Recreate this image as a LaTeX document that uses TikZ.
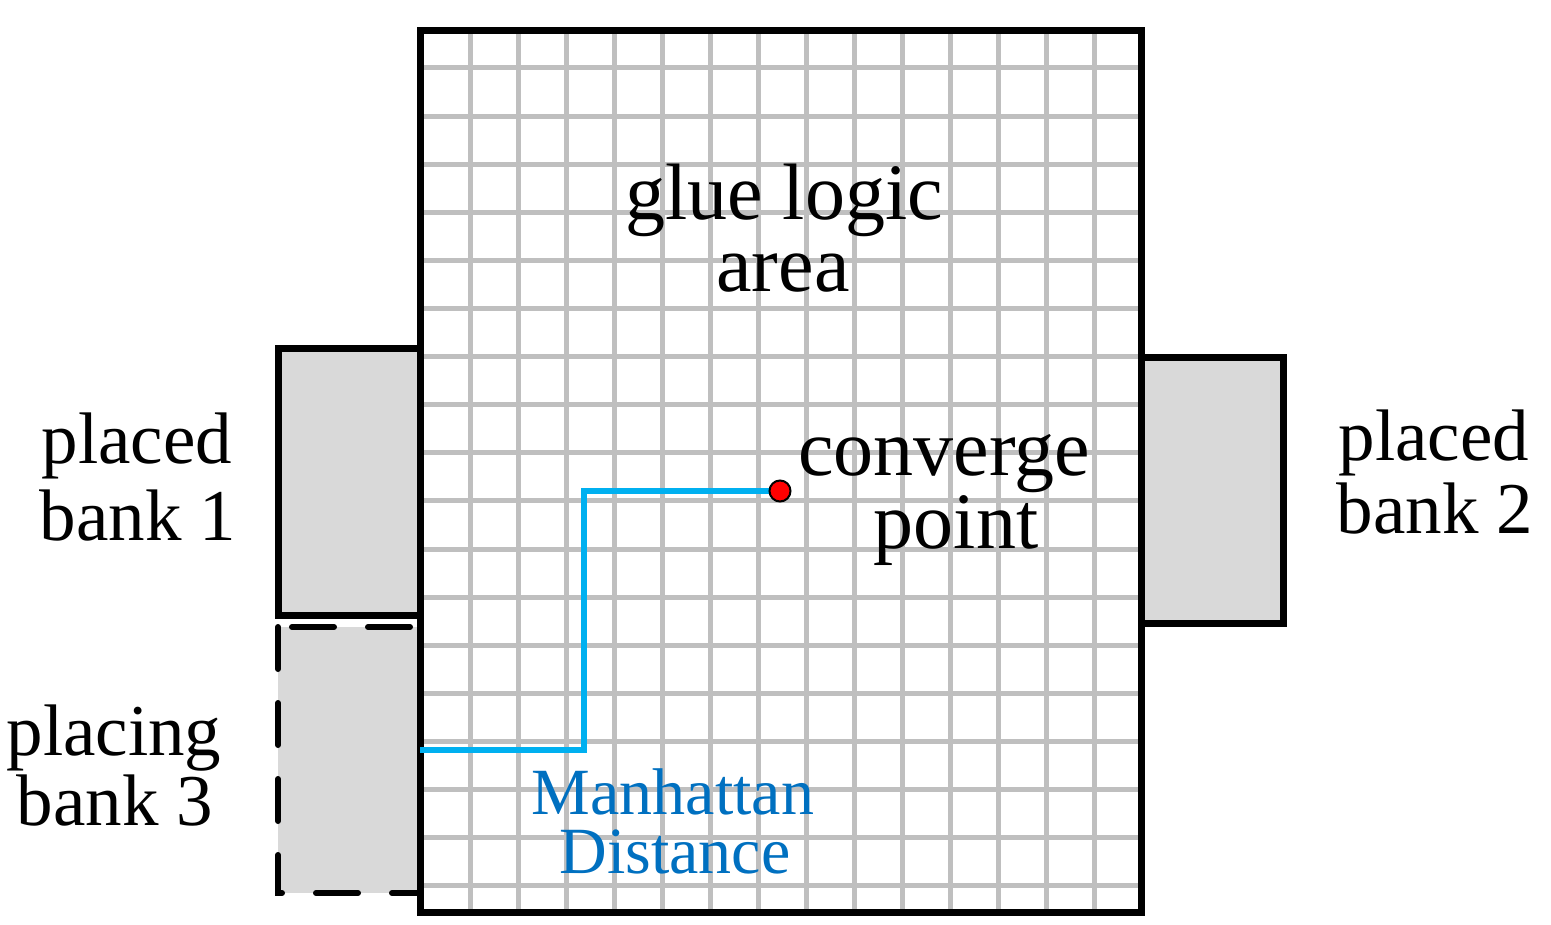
\documentclass[tikz,border=0pt]{standalone}
\usepackage{fontspec}
\setmainfont{Liberation Serif}
\definecolor{gridgray}{HTML}{BFBFBF}
\definecolor{bankgray}{HTML}{D9D9D9}
\definecolor{pathblue}{HTML}{00B0F0}
\definecolor{textblue}{HTML}{0070C0}
\begin{document}
\begin{tikzpicture}[x=1pt,y=-1pt,
  lbl/.style={anchor=base,inner sep=0pt,font=\fontsize{73}{73}\selectfont},
  biglbl/.style={anchor=base,inner sep=0pt,font=\fontsize{80}{80}\selectfont},
  bluelbl/.style={anchor=base,inner sep=0pt,text=textblue,font=\fontsize{66}{66}\selectfont},
  bank/.style={draw=black,fill=bankgray,line width=7pt},
  gridline/.style={draw=gridgray,line width=5pt},
  ]
\useasboundingbox (0,0) rectangle (1551,925);
% banks
\draw[bank] (278,349) rectangle (420,615);
\draw[bank] (1141,358) rectangle (1283,623);
\draw[bank,line width=6pt,dash pattern=on 42pt off 34pt,line cap=round] (278,627) rectangle (420,893);
% glue logic area
\fill[white] (420,31) rectangle (1141,912);
\foreach \i in {0,...,13} \draw[gridline] ({470+48*\i},31) -- ({470+48*\i},912);
\foreach \i in {0,...,17} \draw[gridline] (420,{68+48.1*\i}) -- (1141,{68+48.1*\i});
\draw[line width=7pt] (420,31) rectangle (1141,912);
% manhattan path
\coordinate (ms) at (420,750);
\coordinate (cpc) at (780,491);
\draw[pathblue,line width=6.5pt] (ms) -- (584,750) |- (cpc);
\node[circle,fill=red,draw=black,line width=2pt,minimum size=21pt,inner sep=0pt] (cp) at (cpc) {};
% labels
\node[biglbl] (g1) at (784,220) {glue logic};
\node[biglbl] (g2) at (783,292) {area};
\node[biglbl] (c1) at (944,475) {converge};
\node[biglbl] (c2) at (956,548) {point};
\node[lbl] (b1a) at (137,463) {placed};
\node[lbl] (b1b) at (138,540) {bank 1};
\node[lbl] (b2a) at (1434,460) {placed};
\node[lbl] (b2b) at (1435,533) {bank 2};
\node[lbl] (b3a) at (114,755) {placing};
\node[lbl] (b3b) at (115,825) {bank 3};
\node[bluelbl] (m1) at (673,814) {Manhattan};
\node[bluelbl] (m2) at (675,873) {Distance};
\end{tikzpicture}
\end{document}
